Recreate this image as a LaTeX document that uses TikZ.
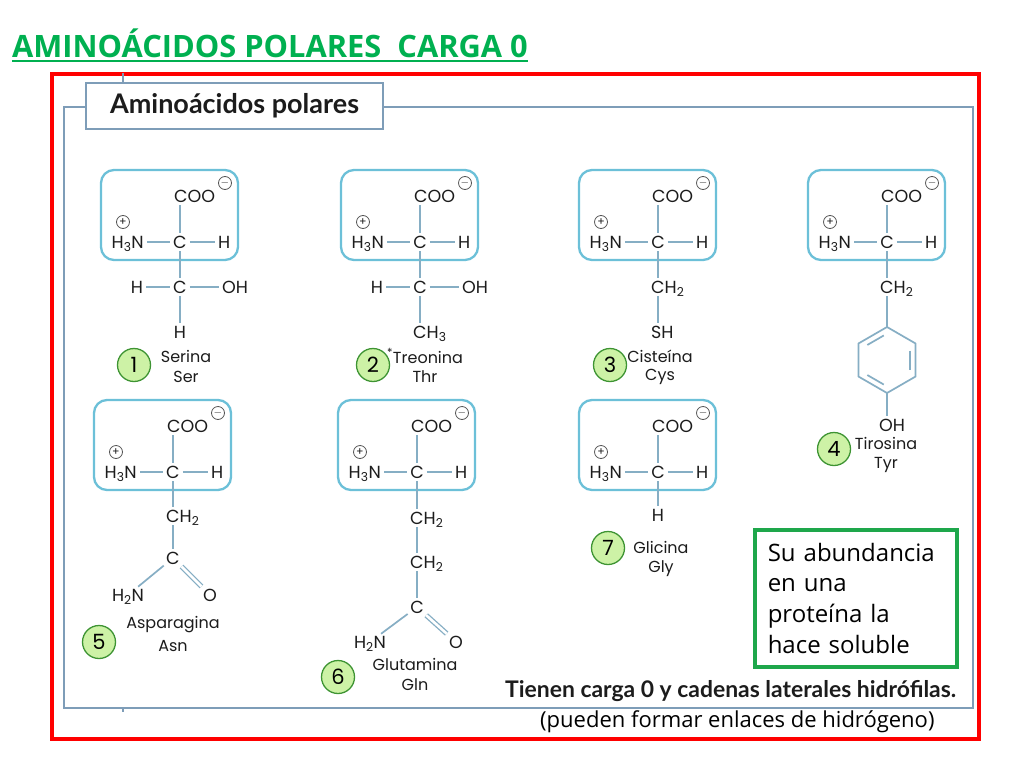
\documentclass[tikz,border=0pt]{standalone}
\usepackage{fontspec}
\setmainfont{Poppins}
\newfontfamily\latofont{Lato}
\newfontfamily\comicfont{Open Sans}
\usetikzlibrary{calc}
\definecolor{boxblue}{HTML}{6CC0D8}
\definecolor{bondc}{HTML}{86AEC4}
\definecolor{framec}{HTML}{7E9DB8}
\definecolor{txt}{HTML}{1C1C1C}
\definecolor{numfill}{HTML}{CDF2A6}
\definecolor{numline}{HTML}{3E9433}
\definecolor{titlegreen}{HTML}{00B050}
\definecolor{boxgreen}{HTML}{1EA74B}
\tikzset{
 atom/.style={inner sep=0pt, text=txt, text height=12.5pt, text depth=0pt, font=\fontsize{17.5}{19}\selectfont},
 bond/.style={draw=bondc, line width=1.7pt, shorten >=3pt, shorten <=3pt},
 dbond/.style={bond, double=white, double distance=2.6pt, line width=1.3pt},
 headbox/.style={draw=boxblue, line width=2.3pt, rounded corners=13pt},
 charge/.style={circle, draw=txt!75, line width=0.8pt, minimum size=13pt, inner sep=0pt, font=\fontsize{11}{11}\selectfont, text=txt},
 numc/.style={circle, draw=numline, fill=numfill, line width=1.3pt, minimum size=33pt, inner sep=0pt, font=\fontsize{21}{21}\selectfont, text=black},
 lab/.style={text=txt, font=\fontsize{16}{18}\selectfont, inner sep=0pt},
 frameline/.style={draw=framec, line width=2pt},
}
\newcommand\aahead[3]{%
 \draw[headbox] ($(#2,#3)+(-79,-72)$) rectangle ($(#2,#3)+(58,18)$);
 \node[atom] (#1C) at (#2,#3) {C};
 \node[atom,anchor=east] (#1N) at ($(#2,#3)+(-36,0)$) {H\textsubscript{3}N};
 \node[atom,anchor=west] (#1H) at ($(#2,#3)+(38,0)$) {H};
 \node[atom,anchor=west] (#1COO) at ($(#2,#3)+(-6,-46)$) {COO};
 \node[charge] (#1pl) at ($(#2,#3)+(-57,-20)$) {+};
 \node[charge] (#1mi) at ($(#2,#3)+(45,-59)$) {$-$};
 \draw[bond] (#1N.east) -- (#1C.west);
 \draw[bond] (#1C.east) -- (#1H.west);
 \draw[bond] (#1C.north) -- (#1C.north |- #1COO.south);
}
\begin{document}
\begin{tikzpicture}[x=1pt,y=-1pt]
\useasboundingbox (0,0) rectangle (1024,768);
\fill[white] (0,0) rectangle (1024,768);

% title
\node[anchor=base west, inner sep=0pt, text=titlegreen, font=\comicfont\bfseries\fontsize{30.8}{34}\selectfont] (title) at (12,57) {AMINOÁCIDOS POLARES\ \ CARGA 0};
\draw[titlegreen, line width=2pt] ($(title.base west)+(0,4)$) -- ($(title.base east)+(0,4)$);

% frames
\draw[red, line width=4pt] (52,74) rectangle (979,739);
\draw[frameline] (85,107) -- (64,107) -- (64,708) -- (973,708) -- (973,107) -- (382,107);
\node[draw=framec, line width=2pt, fill=white, anchor=north west, minimum width=297pt, minimum height=46pt, inner sep=0pt, text=txt, font=\latofont\bfseries\fontsize{27}{30}\selectfont] (hdr) at (85,82) {Aminoácidos polares};
\draw[frameline] ($(hdr.north west)+(38,0)$) -- ++(0,-9);
\draw[frameline] (123,708) -- (123,712);

% 1 Serina
\aahead{ser}{180}{242}
\node[atom] (serC2) at (180,287) {C};
\node[atom] (serHl) at (137,287) {H};
\node[atom] (serOH) at (235,287) {OH};
\node[atom] (serHb) at (180,332) {H};
\draw[bond] (serC) -- (serC2);
\draw[bond] (serHl) -- (serC2);
\draw[bond] (serC2) -- (serOH);
\draw[bond] (serC2) -- (serHb);
\node[numc] (n1) at (134,365) {1};
\node[lab] (serL1) at (186,356) {Serina};
\node[lab] (serL2) at (186,377) {Ser};

% 2 Treonina
\aahead{thr}{420}{242}
\node[atom] (thrC2) at (420,287) {C};
\node[atom] (thrHl) at (377,287) {H};
\node[atom] (thrOH) at (475,287) {OH};
\node[atom,anchor=west] (thrCH) at (413,332) {CH\textsubscript{3}};
\draw[bond] (thrC) -- (thrC2);
\draw[bond] (thrHl) -- (thrC2);
\draw[bond] (thrC2) -- (thrOH);
\draw[bond] (thrC2) -- (thrC2 |- thrCH.north);
\node[numc] (n2) at (373,365) {2};
\node[lab] (thrL1) at (425,356) {\textsuperscript{*}Treonina};
\node[lab] (thrL2) at (425,377) {Thr};

% 3 Cisteina
\aahead{cys}{658}{242}
\node[atom,anchor=west] (cysCH) at (651,287) {CH\textsubscript{2}};
\node[atom,anchor=west] (cysSH) at (651,332) {SH};
\draw[bond] (cysC) -- (cysC |- cysCH.north);
\draw[bond] (cysC |- cysCH.south) -- (cysC |- cysSH.north);
\node[numc] (n3) at (610,365) {3};
\node[lab] (cysL1) at (660,356) {Cisteína};
\node[lab] (cysL2) at (660,377) {Cys};

% 4 Tirosina
\aahead{tyr}{887}{242}
\node[atom,anchor=west] (tyrCH) at (880,287) {CH\textsubscript{2}};
\coordinate (tyrO) at (887,360);
\coordinate (tyrR1) at (887,327);
\coordinate (tyrR2) at (915.58,343.5);
\coordinate (tyrR3) at (915.58,376.5);
\coordinate (tyrR4) at (887,393);
\coordinate (tyrR5) at (858.42,376.5);
\coordinate (tyrR6) at (858.42,343.5);
\draw[draw=bondc, line width=1.7pt, line join=round] (tyrR1) -- (tyrR2) -- (tyrR3) -- (tyrR4) -- (tyrR5) -- (tyrR6) -- cycle;
\foreach \a/\b in {6/1,2/3,4/5}{
 \draw[draw=bondc, line width=1.7pt]
  ($($(tyrO)!0.8!(tyrR\a)$)!0.14!($(tyrO)!0.8!(tyrR\b)$)$) --
  ($($(tyrO)!0.8!(tyrR\a)$)!0.86!($(tyrO)!0.8!(tyrR\b)$)$);
}
\node[atom,anchor=west] (tyrOH) at (879,425) {OH};
\draw[bond] (tyrC) -- (tyrC |- tyrCH.north);
\draw[bond, shorten >=0pt] (tyrC |- tyrCH.south) -- (tyrR1);
\draw[bond, shorten <=0pt] (tyrR4) -- (tyrR4 |- tyrOH.north);
\node[numc] (n4) at (834,449) {4};
\node[lab] (tyrL1) at (886,443) {Tirosina};
\node[lab] (tyrL2) at (886,465) {Tyr};

% 5 Asparagina
\aahead{asn}{173}{472}
\node[atom,anchor=west] (asnCH) at (166,516) {CH\textsubscript{2}};
\node[atom] (asnC2) at (173,558) {C};
\node[atom] (asnN) at (128,595) {H\textsubscript{2}N};
\node[atom] (asnO) at (210,595) {O};
\draw[bond] (asnC) -- (asnC |- asnCH.north);
\draw[bond] (asnC |- asnCH.south) -- (asnC2);
\draw[bond] (asnC2) -- (asnN);
\draw[dbond] (asnC2) -- (asnO);
\node[numc] (n5) at (99,642) {5};
\node[lab] (asnL1) at (173,625) {Asparagina};
\node[lab] (asnL2) at (173,646) {Asn};

% 6 Glutamina
\aahead{gln}{417}{472}
\node[atom,anchor=west] (glnCHa) at (410,518) {CH\textsubscript{2}};
\node[atom,anchor=west] (glnCHb) at (410,562) {CH\textsubscript{2}};
\node[atom] (glnC2) at (417,607) {C};
\node[atom] (glnN) at (370,642) {H\textsubscript{2}N};
\node[atom] (glnO) at (456,642) {O};
\draw[bond] (glnC) -- (glnC |- glnCHa.north);
\draw[bond] (glnC |- glnCHa.south) -- (glnC |- glnCHb.north);
\draw[bond] (glnC |- glnCHb.south) -- (glnC2);
\draw[bond] (glnC2) -- (glnN);
\draw[dbond] (glnC2) -- (glnO);
\node[numc] (n6) at (338,677) {6};
\node[lab] (glnL1) at (415,664) {Glutamina};
\node[lab] (glnL2) at (415,685) {Gln};

% 7 Glicina
\aahead{gly}{658}{472}
\node[atom] (glyHb) at (658,515) {H};
\draw[bond] (glyC) -- (glyHb);
\node[numc] (n7) at (608,548) {7};
\node[lab] (glyL1) at (661,547) {Glicina};
\node[lab] (glyL2) at (661,569) {Gly};

% note box
\node[draw=boxgreen, line width=3.5pt, anchor=north west, minimum width=202pt, minimum height=137pt, text width=176pt, inner xsep=12pt, align=left, font=\comicfont\fontsize{24}{30.7}\selectfont] (note) at (753,528) {Su abundancia\\en una\\proteína la\\hace soluble};

% bottom texts
\node[anchor=base west, inner sep=0pt, text=txt, font=\latofont\bfseries\fontsize{22.9}{26}\selectfont] (tienen) at (505,697) {Tienen carga 0 y cadenas laterales hidrófilas.};
\node[anchor=base west, inner sep=0pt, font=\comicfont\fontsize{22}{25}\selectfont] (pueden) at (540,727) {(pueden formar enlaces de hidrógeno)};
\end{tikzpicture}
\end{document}
